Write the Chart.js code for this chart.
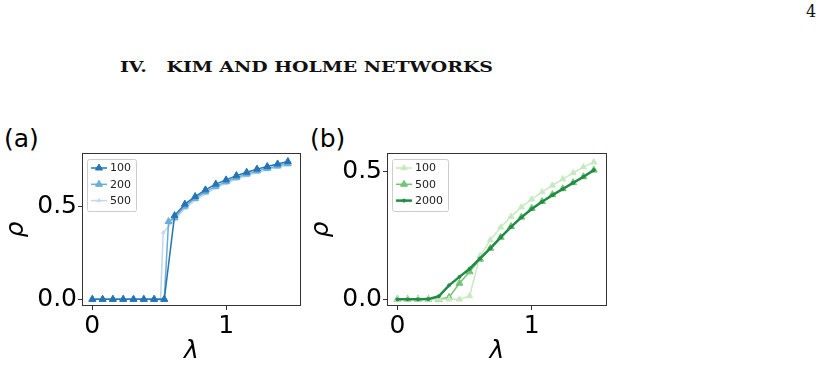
<!DOCTYPE html>
<html>
<head>
<meta charset="utf-8">
<script src="https://cdn.jsdelivr.net/npm/chart.js@4.4.0/dist/chart.umd.min.js"></script>
<style>
body { margin: 0; background: #fff; width: 820px; height: 367px; overflow: hidden; position: relative; }
canvas { position: absolute; top: 120px; }
#ca { left: 0; }
#cb { left: 305px; }
.lab { position: absolute; font: 25px "DejaVu Sans"; line-height: 25px; color: #000; }
#title { position: absolute; left: 120px; top: 60px; font: bold 15px "DejaVu Serif"; line-height: 15px; white-space: pre; transform-origin: 0 0; color: #111; }
#pg { position: absolute; left: 806px; top: 4px; font: 16px "DejaVu Serif"; line-height: 16px; color: #111; }
</style>
</head>
<body>
<div id="pg">4</div>
<div id="title">IV.   KIM AND HOLME NETWORKS</div>
<div class="lab" style="left:4px;top:126px">(a)</div>
<div class="lab" style="left:310px;top:126px">(b)</div>
<canvas id="ca" width="310" height="247"></canvas>
<canvas id="cb" width="310" height="247"></canvas>
<script>
// lambda values
let lambda_grid = [0, 0.077, 0.154, 0.231, 0.308, 0.385, 0.462, 0.538, 0.615, 0.692, 0.769, 0.846, 0.923, 1.0, 1.077, 1.154, 1.231, 1.308, 1.385, 1.462]
let lambda_a_200 = [0, 0.077, 0.154, 0.231, 0.308, 0.385, 0.462, 0.538, 0.57, 0.615, 0.692, 0.769, 0.846, 0.923, 1.0, 1.077, 1.154, 1.231, 1.308, 1.385, 1.462]
let lambda_a_500 = [0, 0.077, 0.154, 0.231, 0.308, 0.385, 0.462, 0.51, 0.53, 0.615, 0.692, 0.769, 0.846, 0.923, 1.0, 1.077, 1.154, 1.231, 1.308, 1.385, 1.462]

// (a) rho, blue series
let rho_a_100 = [0, 0, 0, 0, 0, 0, 0, 0, 0.452, 0.514, 0.555, 0.591, 0.622, 0.645, 0.668, 0.686, 0.703, 0.717, 0.731, 0.744]
let rho_a_200 = [0, 0, 0, 0, 0, 0, 0, 0, 0.42, 0.44, 0.503, 0.545, 0.58, 0.61, 0.635, 0.658, 0.676, 0.693, 0.707, 0.72, 0.733]
let rho_a_500 = [0, 0, 0, 0, 0, 0, 0, 0, 0.36, 0.43, 0.49, 0.535, 0.57, 0.6, 0.626, 0.648, 0.667, 0.684, 0.699, 0.712, 0.724]

// (b) rho, green series
let rho_b_100 = [0, 0, 0, 0, 0, 0, 0, 0.013, 0.17, 0.232, 0.282, 0.324, 0.361, 0.392, 0.42, 0.446, 0.471, 0.495, 0.518, 0.537]
let rho_b_500 = [0, 0, 0, 0, 0, 0.008, 0.063, 0.108, 0.157, 0.2, 0.243, 0.285, 0.322, 0.356, 0.383, 0.41, 0.433, 0.457, 0.48, 0.506]
let rho_b_2000 = [0, 0, 0, 0.001, 0.012, 0.055, 0.088, 0.12, 0.16, 0.2, 0.243, 0.284, 0.321, 0.354, 0.382, 0.408, 0.432, 0.456, 0.48, 0.506]

let labels_a = ["100", "200", "500"]
let labels_b = ["100", "500", "2000"]

let x_ticks = [0, 1]
let y_ticks_a = [0, 0.5]
let y_ticks_b = [0, 0.5]

function xy(xs, ys) {
    let pts = []
    for (let i = 0; i < xs.length; i++) {
        pts.push({x: xs[i], y: ys[i]})
    }
    return pts
}

function series(label, xs, ys, color, width, style, radius, order) {
    return {
        label: label,
        data: xy(xs, ys),
        showLine: true,
        borderColor: color,
        backgroundColor: color,
        borderWidth: width,
        pointStyle: style,
        pointRadius: radius,
        pointBorderWidth: 1,
        pointBorderColor: color,
        pointBackgroundColor: color,
        order: order
    }
}

// frame round the plot area plus a matplotlib-like legend box
const frame_plugin = {
    id: "frame",
    afterDraw(chart) {
        let a = chart.chartArea
        let ctx = chart.ctx
        ctx.save()
        ctx.strokeStyle = "#333"
        ctx.lineWidth = 1
        ctx.strokeRect(Math.round(a.left) + 0.5, Math.round(a.top) + 0.5, Math.round(a.right - a.left) - 1, Math.round(a.bottom - a.top) - 1)

        let sets = chart.data.datasets
        ctx.font = '11px "DejaVu Sans"'
        let w = 0
        sets.forEach(d => { w = Math.max(w, ctx.measureText(d.label).width) })
        let x0 = Math.round(a.left) + 5, y0 = Math.round(a.top) + 6
        ctx.fillStyle = "rgba(255,255,255,0.8)"
        ctx.strokeStyle = "#ccc"
        ctx.beginPath()
        ctx.roundRect(x0 + 0.5, y0 + 0.5, w + 28, 52, 2)
        ctx.fill()
        ctx.stroke()
        sets.forEach((d, i) => {
            let y = y0 + 9 + i * 16.3
            ctx.strokeStyle = d.borderColor
            ctx.lineWidth = d.borderWidth
            ctx.beginPath()
            ctx.moveTo(x0 + 4, y)
            ctx.lineTo(x0 + 20, y)
            ctx.stroke()
            ctx.fillStyle = d.backgroundColor
            ctx.lineWidth = 1
            Chart.helpers.drawPoint(ctx, {pointStyle: d.pointStyle, radius: d.pointRadius, borderWidth: 1, rotation: 0}, x0 + 12, y)
            ctx.fillStyle = "#222"
            ctx.textBaseline = "middle"
            ctx.textAlign = "left"
            ctx.fillText(d.label, x0 + 23, y + 0.5)
        })
        ctx.restore()
    }
}

function make_chart(id, sets, y_min, y_max, y_ticks, right_pad) {
    return new Chart(document.getElementById(id), {
        type: "scatter",
        data: {datasets: sets},
        options: {
            responsive: false,
            animation: false,
            devicePixelRatio: 1,
            layout: {padding: {top: 33, right: right_pad, left: 0, bottom: 0}},
            plugins: {legend: {display: false}, tooltip: {enabled: false}},
            scales: {
                x: {
                    type: "linear",
                    min: -0.077,
                    max: 1.56,
                    afterFit: s => { s.height = 61 },
                    afterBuildTicks: s => { s.ticks = x_ticks.map(v => ({value: v})) },
                    ticks: {font: {family: "DejaVu Sans", size: 25}, color: "#000", padding: 1, maxRotation: 0, autoSkip: false, callback: v => String(v)},
                    grid: {drawOnChartArea: false, tickLength: 4, color: "#333"},
                    border: {display: false},
                    title: {display: true, text: "λ", color: "#000", padding: {top: 0, bottom: 3}, font: {family: "DejaVu Sans", size: 25, style: "italic", lineHeight: 1}}
                },
                y: {
                    type: "linear",
                    min: y_min,
                    max: y_max,
                    afterFit: s => { s.width = 82 },
                    afterBuildTicks: s => { s.ticks = y_ticks.map(v => ({value: v})) },
                    ticks: {font: {family: "DejaVu Sans", size: 25}, color: "#000", padding: 1, autoSkip: false, callback: v => v.toFixed(1)},
                    grid: {drawOnChartArea: false, tickLength: 4, color: "#333"},
                    border: {display: false},
                    title: {display: true, text: "ρ", color: "#000", padding: {top: 4, bottom: 0}, font: {family: "DejaVu Sans", size: 25, style: "italic", lineHeight: 1}}
                }
            }
        },
        plugins: [frame_plugin]
    })
}

make_chart("ca", [
    series(labels_a[0], lambda_grid, rho_a_100, "#2474b7", 1.5, "triangle", 4, 0),
    series(labels_a[1], lambda_a_200, rho_a_200, "#6aaed6", 1.5, "triangle", 4, 1),
    series(labels_a[2], lambda_a_500, rho_a_500, "#c2d8ed", 1.5, "triangle", 2, 2)
], -0.036, 0.79, y_ticks_a, 9)

// the 2000 curve sits on top of the others
make_chart("cb", [
    series(labels_b[0], lambda_grid, rho_b_100, "#c7e9c0", 1.5, "triangle", 3.5, 1),
    series(labels_b[1], lambda_grid, rho_b_500, "#74c476", 1.5, "triangle", 4, 2),
    series(labels_b[2], lambda_grid, rho_b_2000, "#238b45", 2.5, "circle", 1.5, 0)
], -0.026, 0.573, y_ticks_b, 8)

// stretch the heading to the width it has in the reference
let title = document.getElementById("title")
title.style.transform = "scaleX(" + (373 / title.getBoundingClientRect().width) + ")"
</script>
</body>
</html>
